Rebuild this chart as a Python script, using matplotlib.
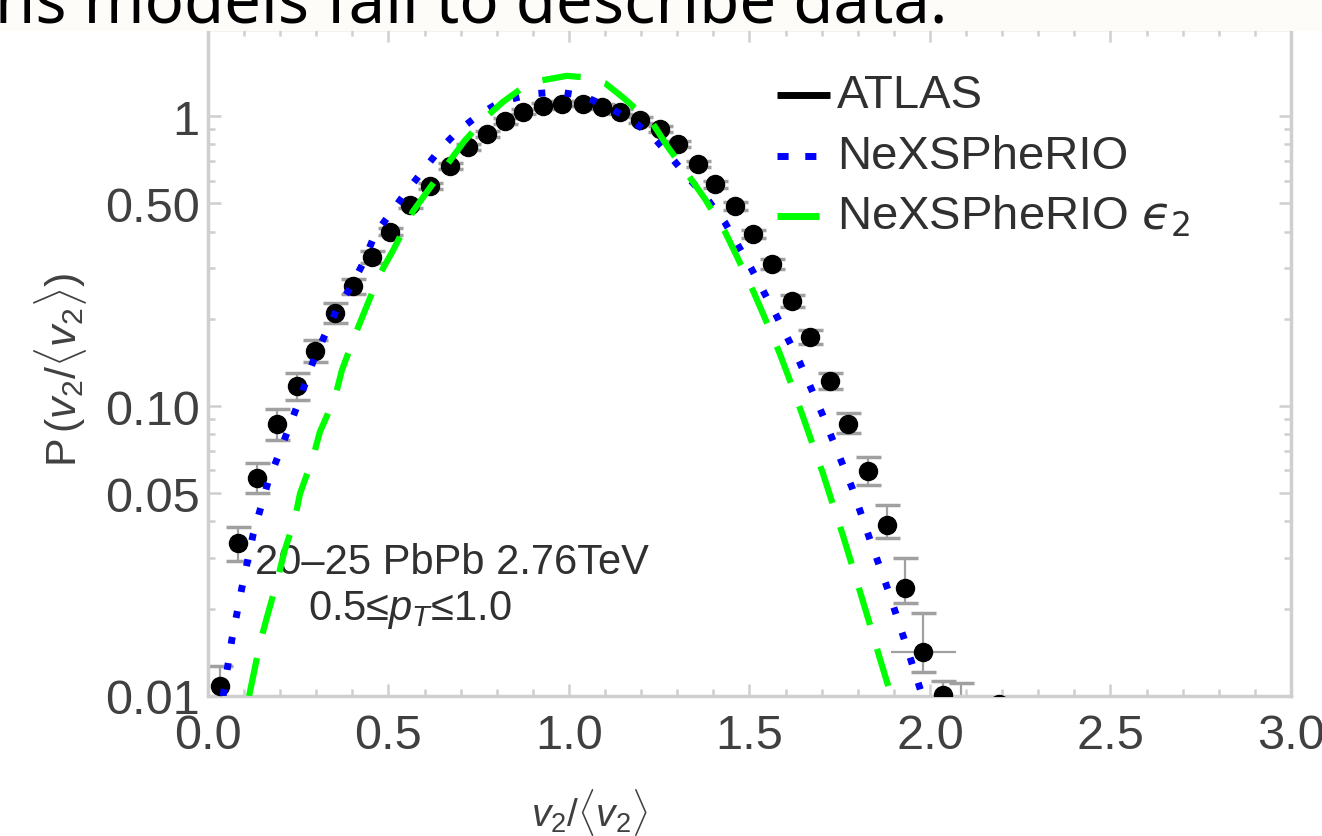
import matplotlib
matplotlib.use('Agg')
import matplotlib.pyplot as plt
from matplotlib.patches import Rectangle
from matplotlib.ticker import FixedLocator, FixedFormatter, NullFormatter

plt.rcParams['font.family'] = ['Liberation Sans', 'DejaVu Sans']
plt.rcParams['mathtext.fontset'] = 'custom'
plt.rcParams['mathtext.rm'] = 'Liberation Sans'
plt.rcParams['mathtext.it'] = 'Liberation Sans:italic'
plt.rcParams['mathtext.bf'] = 'Liberation Sans:bold'

# ATLAS v2/<v2> distribution, 20-25% PbPb 2.76 TeV, 0.5 < pT < 1.0
atlas_x = [0.033, 0.083, 0.136, 0.191, 0.247, 0.296, 0.352, 0.402, 0.454, 0.503,
           0.560, 0.615, 0.670, 0.720, 0.773, 0.823, 0.873, 0.928, 0.981, 1.039,
           1.091, 1.141, 1.197, 1.252, 1.302, 1.357, 1.404, 1.460, 1.510, 1.562,
           1.618, 1.668, 1.723, 1.773, 1.828, 1.881, 1.931, 1.981, 2.036, 2.085,
           2.190]
atlas_y = [0.0108, 0.0338, 0.0567, 0.0865, 0.117, 0.155, 0.209, 0.259, 0.327, 0.400,
           0.495, 0.574, 0.673, 0.783, 0.869, 0.963, 1.035, 1.085, 1.103, 1.103,
           1.077, 1.035, 0.970, 0.904, 0.802, 0.684, 0.583, 0.490, 0.392, 0.309,
           0.230, 0.173, 0.122, 0.0865, 0.0595, 0.0390, 0.0236, 0.0142, 0.0101, 0.0085,
           0.0094]
atlas_err_lo = [0.0016, 0.0045, 0.0065, 0.0100, 0.012, 0.013, 0.016, 0.015, 0.015, 0.012,
                0.013, 0.014, 0.015, 0.017, 0.018, 0.020, 0.021, 0.022, 0.022, 0.022,
                0.022, 0.021, 0.020, 0.019, 0.018, 0.017, 0.016, 0.015, 0.013, 0.012,
                0.010, 0.009, 0.007, 0.006, 0.006, 0.0038, 0.0027, 0.0021, 0.0012, 0.001,
                0.0]
atlas_err_hi = [0.0019, 0.0045, 0.0068, 0.0110, 0.013, 0.014, 0.017, 0.016, 0.015, 0.012,
                0.013, 0.014, 0.015, 0.017, 0.018, 0.020, 0.021, 0.022, 0.022, 0.022,
                0.022, 0.021, 0.020, 0.019, 0.018, 0.017, 0.016, 0.015, 0.013, 0.012,
                0.011, 0.010, 0.008, 0.008, 0.0070, 0.0065, 0.0064, 0.0051, 0.0012, 0.0026,
                0.0]
atlas_xerr = [0.0] * 37 + [0.09] + [0.0] * 3

# NeXSPheRIO v2 distribution
nex_x = [0.042, 0.066, 0.094, 0.125, 0.166, 0.194, 0.247, 0.296, 0.357, 0.399,
         0.429, 0.463, 0.551, 0.643, 0.693, 0.750, 0.809, 0.898, 0.970, 1.039,
         1.108, 1.177, 1.233, 1.280, 1.327, 1.377, 1.432, 1.504, 1.576, 1.640,
         1.700, 1.784, 1.834, 1.884, 1.931, 1.978]
nex_y = [0.0100, 0.0156, 0.0236, 0.0360, 0.0545, 0.0670, 0.100, 0.148, 0.2155, 0.262,
         0.310, 0.392, 0.552, 0.770, 0.890, 1.010, 1.120, 1.194, 1.213, 1.175,
         1.077, 0.963, 0.849, 0.730, 0.620, 0.530, 0.430, 0.300, 0.2037, 0.141,
         0.095, 0.0524, 0.0346, 0.0232, 0.0154, 0.0101]

# NeXSPheRIO eccentricity (eps2) scaled distribution
ecc_x = [0.114, 0.144, 0.163, 0.191, 0.213, 0.241, 0.255, 0.291, 0.310, 0.352,
         0.371, 0.407, 0.435, 0.476, 0.512, 0.568, 0.612, 0.662, 0.710, 0.773,
         0.817, 0.870, 0.925, 0.994, 1.050, 1.100, 1.150, 1.233, 1.274, 1.341,
         1.377, 1.432, 1.465, 1.510, 1.540, 1.582, 1.607, 1.643, 1.668, 1.704,
         1.726, 1.759, 1.781, 1.812, 1.831, 1.861, 1.895]
ecc_y = [0.0100, 0.0152, 0.0186, 0.0248, 0.0319, 0.0410, 0.0499, 0.0665, 0.0814, 0.1072,
         0.1329, 0.1755, 0.2139, 0.2852, 0.343, 0.470, 0.560, 0.680, 0.820, 1.000,
         1.120, 1.250, 1.330, 1.378, 1.360, 1.300, 1.160, 0.940, 0.783, 0.600,
         0.518, 0.400, 0.329, 0.250, 0.205, 0.154, 0.1275, 0.0960, 0.0782, 0.0584,
         0.0479, 0.0358, 0.0291, 0.0217, 0.0181, 0.0135, 0.0098]

x_ticks = [0.0, 0.5, 1.0, 1.5, 2.0, 2.5, 3.0]
x_ticklabels = ['0.0', '0.5', '1.0', '1.5', '2.0', '2.5', '3.0']
y_ticks = [0.01, 0.05, 0.1, 0.5, 1.0]
y_ticklabels = ['0.01', '0.05', '0.10', '0.50', '1']
y_minor = [0.02, 0.03, 0.04, 0.06, 0.07, 0.08, 0.09,
           0.2, 0.3, 0.4, 0.6, 0.7, 0.8, 0.9]
x_minor = [i / 10 for i in range(31)]

legend_labels = ['ATLAS', 'NeXSPheRIO', r'NeXSPheRIO $\mathit{ϵ}_2$']

frame_col = '#cfcfcf'
text_col = '#404040'

fig = plt.figure(figsize=(13.22, 8.37), dpi=100)
ax = fig.add_axes([0.1573, 0.1673, 0.8192, 0.7969])
ax.set_yscale('log')
ax.set_xlim(0, 3)
ax.set_ylim(0.01, 2.0)

# data with error bars
ax.errorbar(atlas_x, atlas_y, yerr=[atlas_err_lo, atlas_err_hi], fmt='none',
            ecolor='#a0a0a0', elinewidth=1.6, capsize=9, capthick=2.5, zorder=2)
ax.errorbar(atlas_x, atlas_y, xerr=atlas_xerr, fmt='none',
            ecolor='#a0a0a0', elinewidth=1.6, capsize=0, zorder=2)
ax.plot(atlas_x, atlas_y, 'o', color='black', ms=13, mec='black', zorder=3)

# model curves
ax.plot(nex_x, nex_y, color='#0000ff', lw=5, ls=(0, (1, 2.8)),
        dash_capstyle='butt', zorder=4)
ax.plot(ecc_x, ecc_y, color='#00ff00', lw=4.5, ls=(0, (6.2, 4)),
        dash_capstyle='butt', zorder=5)

# axes frame and ticks
for s in ax.spines.values():
    s.set_color(frame_col)
    s.set_linewidth(2.5)
ax.xaxis.set_major_locator(FixedLocator(x_ticks))
ax.xaxis.set_major_formatter(FixedFormatter(x_ticklabels))
ax.xaxis.set_minor_locator(FixedLocator(x_minor))
ax.xaxis.set_minor_formatter(NullFormatter())
ax.yaxis.set_major_locator(FixedLocator(y_ticks))
ax.yaxis.set_major_formatter(FixedFormatter(y_ticklabels))
ax.yaxis.set_minor_locator(FixedLocator(y_minor))
ax.yaxis.set_minor_formatter(NullFormatter())
ax.tick_params(which='both', direction='in', top=True, right=True,
               color=frame_col, width=1.8, labelcolor=text_col, labelsize=35)
ax.tick_params(which='major', length=9)
ax.tick_params(which='minor', length=5)
ax.tick_params(axis='x', pad=12)
ax.tick_params(axis='y', pad=6)

ax.set_xlabel(r'$v_2/\langle v_2\rangle$', fontsize=28, color=text_col)
ax.xaxis.set_label_coords(0.3527, -0.135)
ax.set_ylabel(r'P$\,(v_2/\langle v_2\rangle)$', fontsize=31, color=text_col)
ax.yaxis.set_label_coords(-0.110, 0.49)

# legend drawn by hand
leg_rows = [0.901, 0.8096, 0.7196]
ax.plot([0.5254, 0.5743], [leg_rows[0]] * 2, transform=ax.transAxes,
        color='black', lw=5, solid_capstyle='butt', clip_on=False)
ax.plot([0.5254, 0.5660], [leg_rows[1]] * 2, transform=ax.transAxes,
        color='#0000ff', lw=5, ls=(0, (1.6, 2.4)), dash_capstyle='butt', clip_on=False)
ax.plot([0.5254, 0.5640], [leg_rows[2]] * 2, transform=ax.transAxes,
        color='#00ff00', lw=5, solid_capstyle='butt', clip_on=False)
for row, lab in zip(leg_rows, legend_labels):
    ax.text(0.5808, row, lab, transform=ax.transAxes, fontsize=34,
            color='#303030', va='center', ha='left', math_fontfamily='dejavusans')

ax.text(0.0434, 0.2009, '20–25 PbPb 2.76TeV', transform=ax.transAxes,
        fontsize=30, color='#303030', va='center', ha='left')
ax.text(0.0923, 0.1304, r'0.5≤$p_T$≤1.0', transform=ax.transAxes,
        fontsize=30, color='#303030', va='center', ha='left')

# slide caption strip above the plot
fig.patches.append(Rectangle((0, 1 - 32 / 837), 1, 32 / 837, transform=fig.transFigure,
                             facecolor='#fdfcf8', edgecolor='none', zorder=10))
fig.text(-0.004, 1 - 24 / 837, 'ns models fail to describe data.', fontsize=47,
         family='Noto Sans', color='black', ha='left', va='baseline', zorder=11)

fig.savefig('out.png', dpi=100)
